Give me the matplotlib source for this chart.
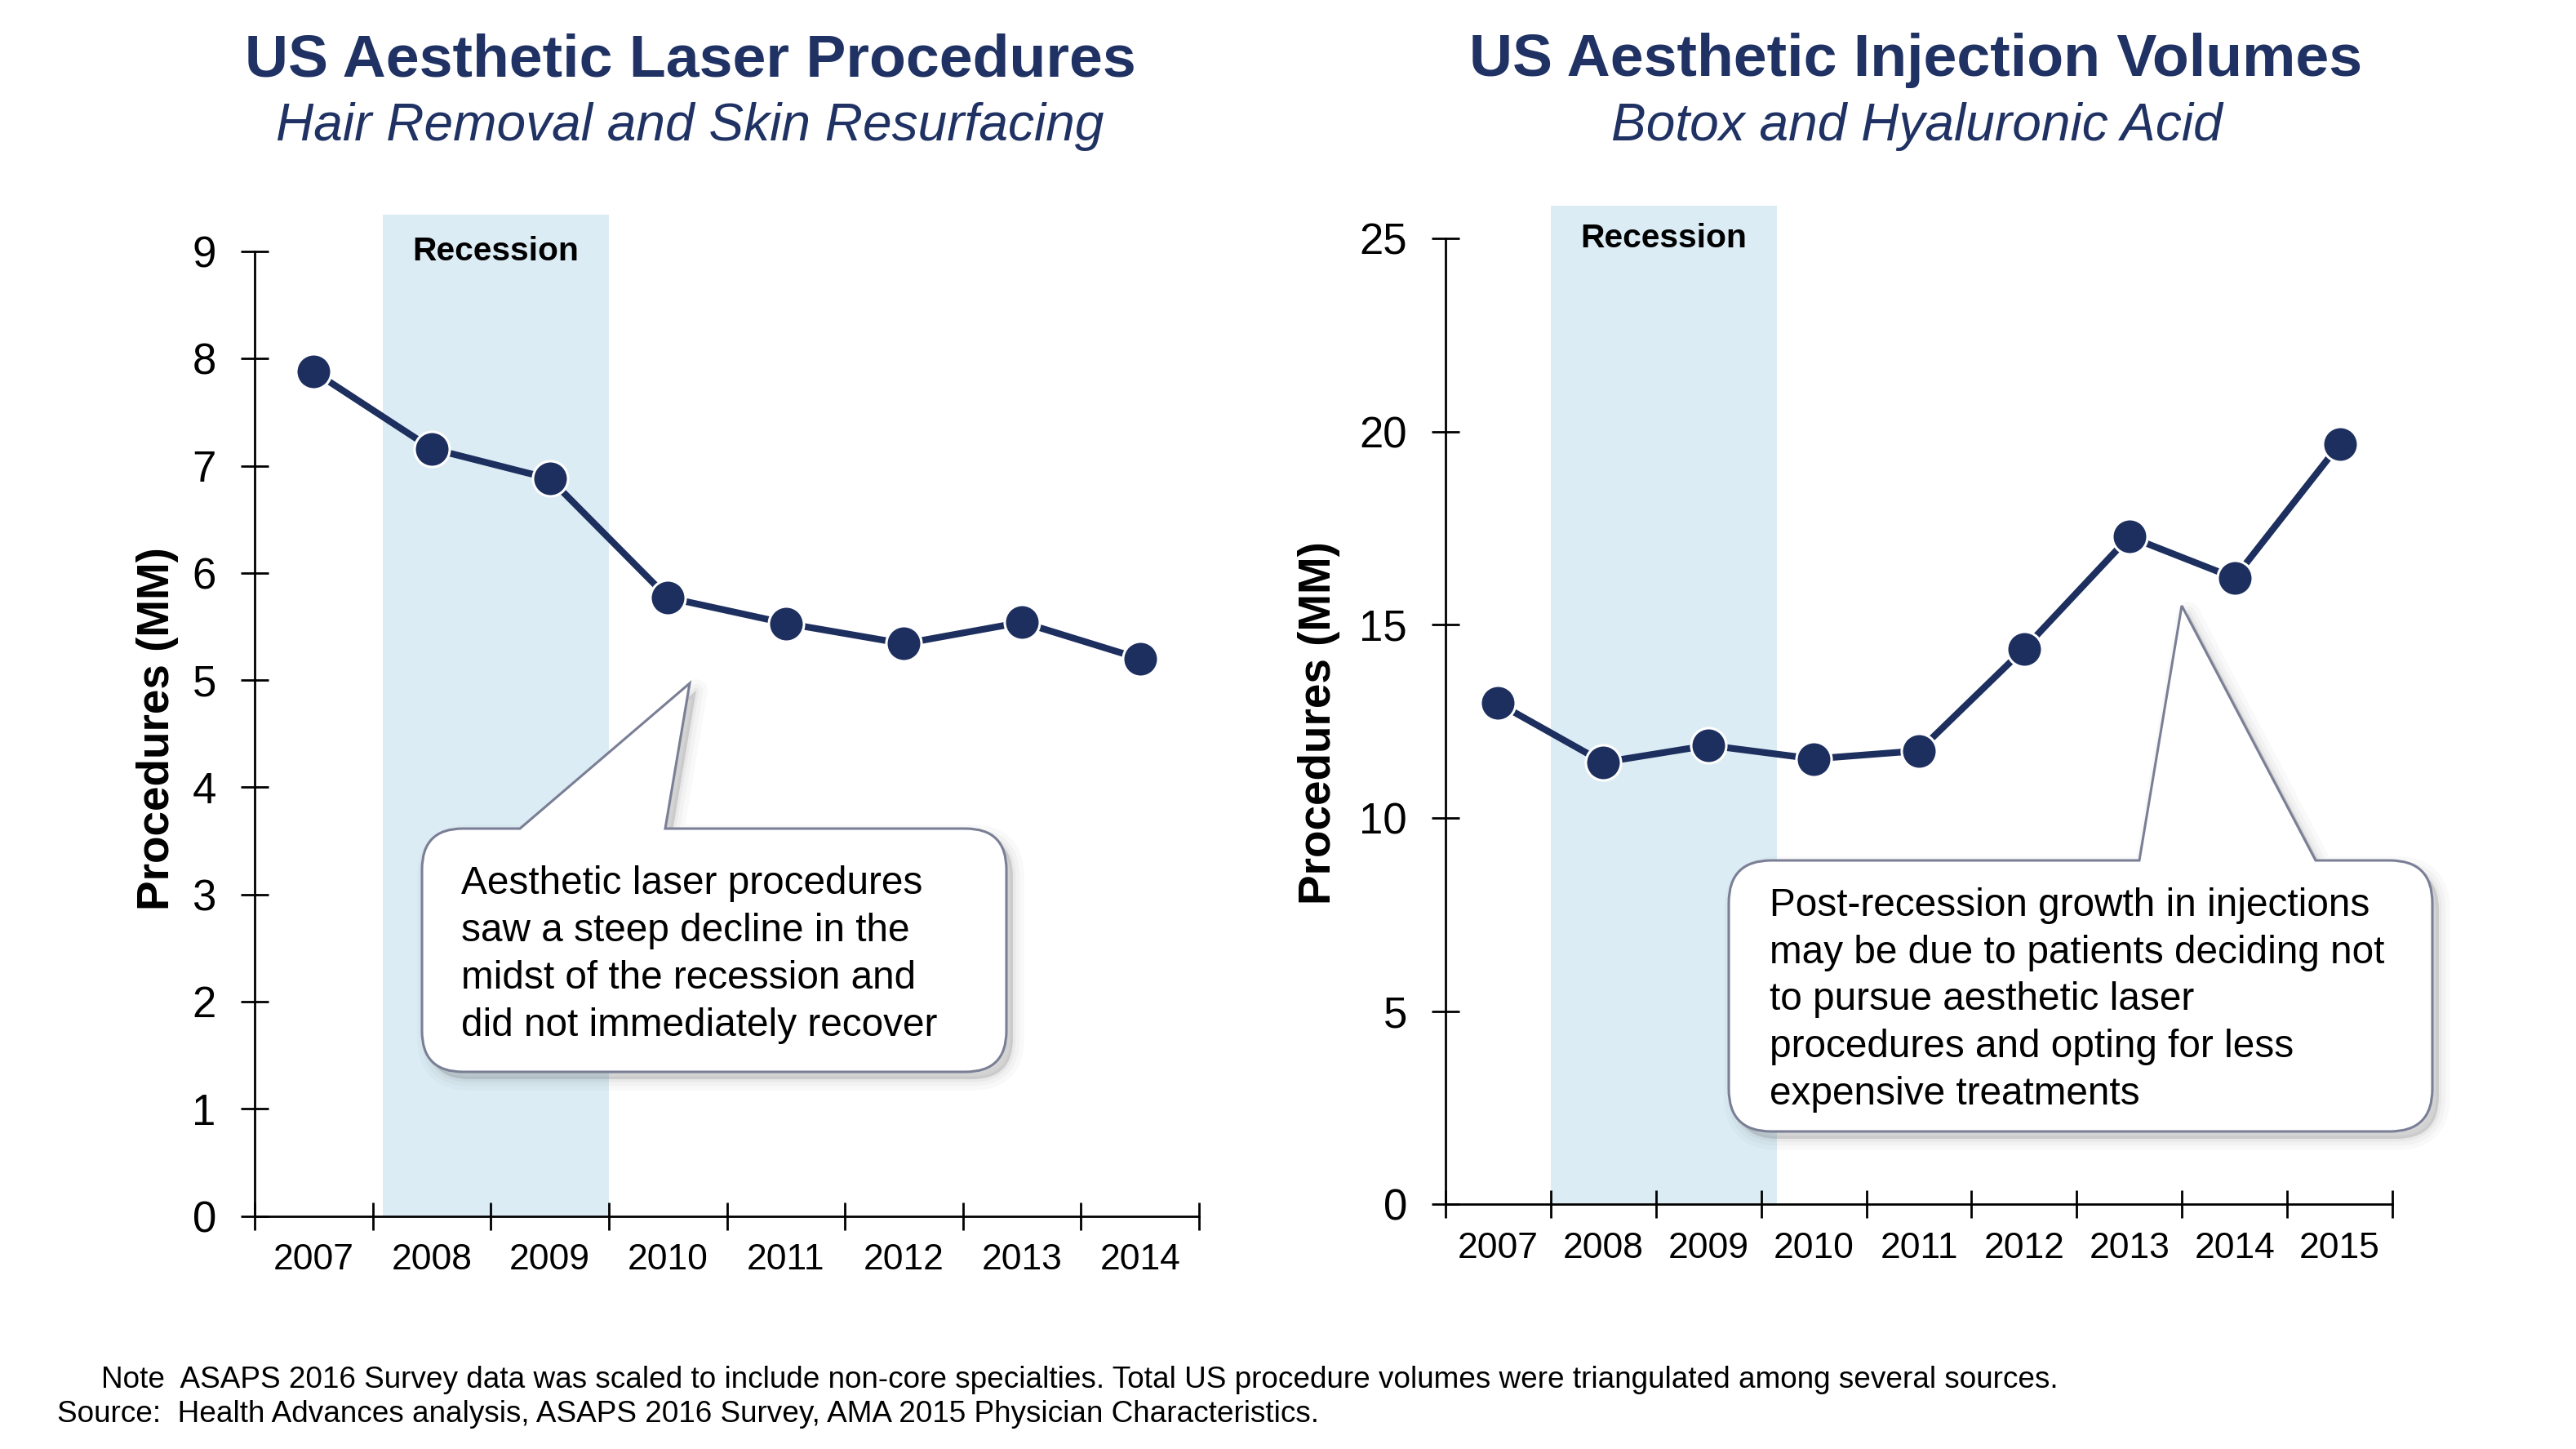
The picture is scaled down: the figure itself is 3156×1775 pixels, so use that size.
import numpy as np
import matplotlib
matplotlib.use('Agg')
import matplotlib.pyplot as plt
from matplotlib.path import Path
from matplotlib.patches import PathPatch

# data
laser_years = ['2007', '2008', '2009', '2010', '2011', '2012', '2013', '2014']
laser_mm = [7.88, 7.16, 6.88, 5.77, 5.53, 5.34, 5.54, 5.20]
laser_recession = [0.585, 2.5]

inj_years = ['2007', '2008', '2009', '2010', '2011', '2012', '2013', '2014', '2015']
inj_mm = [12.97, 11.44, 11.88, 11.53, 11.74, 14.38, 17.28, 16.21, 19.68]
inj_recession = [0.5, 2.65]

laser_title = 'US Aesthetic Laser Procedures'
laser_sub = 'Hair Removal and Skin Resurfacing'
inj_title = 'US Aesthetic Injection Volumes'
inj_sub = 'Botox and Hyaluronic Acid'
ylab = 'Procedures (MM)'

laser_note = ['Aesthetic laser procedures', 'saw a steep decline in the',
              'midst of the recession and', 'did not immediately recover']
inj_note = ['Post-recession growth in injections', 'may be due to patients deciding not',
            'to pursue aesthetic laser', 'procedures and opting for less',
            'expensive treatments']
foot1 = 'Note  ASAPS 2016 Survey data was scaled to include non-core specialties. Total US procedure volumes were triangulated among several sources.'
foot2 = 'Source:  Health Advances analysis, ASAPS 2016 Survey, AMA 2015 Physician Characteristics.'

W, H = 3156, 1775
navy = '#1d2f5e'
title_col = '#1f3263'
band_col = '#dcecf5'
edge_col = '#7a7f95'

plt.rcParams['font.family'] = ['Liberation Sans', 'DejaVu Sans']


def panel(ax, years, vals, ymax, ystep, ytop, band, lab_x, lab_y):
  x = np.arange(len(years))
  ax.axvspan(band[0], band[1], color=band_col, lw=0, zorder=0)
  ax.plot(x, vals, color=navy, lw=5.9, marker='o', ms=31, mfc=navy,
          mec='white', mew=2.2, zorder=3, clip_on=False)
  ax.set_xlim(-0.5, len(years) - 0.5)
  ax.set_ylim(0, ytop)
  for s in ['top', 'right']:
    ax.spines[s].set_visible(False)
  ax.spines['left'].set_bounds(0, ymax)
  ax.spines['left'].set_linewidth(2.0)
  ax.spines['bottom'].set_linewidth(2.0)
  ax.set_yticks(np.arange(0, ymax + ystep / 2, ystep))
  ax.set_xticks(x)
  ax.set_xticklabels(years)
  ax.set_xticks(np.arange(-0.5, len(years)), minor=True)
  ax.tick_params(axis='x', which='major', length=0, pad=24, labelsize=32)
  ax.tick_params(axis='x', which='minor', direction='inout', length=24, width=2.0)
  ax.tick_params(axis='y', direction='inout', length=24, width=2.0, pad=22, labelsize=38)
  ax.set_ylabel(ylab, fontsize=39.5, fontweight='bold')
  ax.yaxis.set_label_coords(lab_x, lab_y)
  ax.yaxis.label.set_va('center')
  ax.text(sum(band) / 2, ymax, 'Recession', ha='center', va='center',
          fontsize=29.3, fontweight='bold', zorder=2)


def callout(ov, box, base, tip, r, lines, tx, ty, dy):
  x0, y0, x1, y1 = box
  verts = [(x0 + r, y0), (base[0], y0), tip, (base[1], y0), (x1 - r, y0),
           (x1, y0), (x1, y0 + r), (x1, y1 - r), (x1, y1), (x1 - r, y1),
           (x0 + r, y1), (x0, y1), (x0, y1 - r), (x0, y0 + r), (x0, y0), (x0 + r, y0),
           (x0 + r, y0)]
  codes = [Path.MOVETO, Path.LINETO, Path.LINETO, Path.LINETO, Path.LINETO,
           Path.CURVE3, Path.CURVE3, Path.LINETO, Path.CURVE3, Path.CURVE3,
           Path.LINETO, Path.CURVE3, Path.CURVE3, Path.LINETO, Path.CURVE3, Path.CURVE3,
           Path.CLOSEPOLY]
  v = np.array(verts, dtype=float)
  # soft drop shadow
  for lw, a in [(20, 0.035), (12, 0.045), (5, 0.06), (0, 0.08)]:
    ov.add_patch(PathPatch(Path(v + [8, 9], codes), fc='#606060', ec='#606060',
                           lw=lw, alpha=a, joinstyle='round'))
  ov.add_patch(PathPatch(Path(v, codes), fc='white', ec=edge_col, lw=2.2,
                         joinstyle='miter'))
  for i, s in enumerate(lines):
    ov.text(tx, ty + i * dy, s, ha='left', va='baseline', fontsize=34.4, color='black')


fig = plt.figure(figsize=(W / 100, H / 100), dpi=100)

ax1 = fig.add_axes([312 / W, 1 - 1489.5 / H, 1157 / W, 1226.1 / H])
panel(ax1, laser_years, laser_mm, 9, 1, 9.34, laser_recession, -0.1029, 0.487)

ax2 = fig.add_axes([1771 / W, 1 - 1475.4 / H, 1160 / W, 1223.7 / H])
panel(ax2, inj_years, inj_mm, 25, 5, 25.85, inj_recession, -0.1336, 0.482)

ov = fig.add_axes([0, 0, 1, 1], zorder=5)
ov.set_xlim(0, W)
ov.set_ylim(H, 0)
ov.axis('off')
ov.patch.set_visible(False)

ov.text(845.5, 93.3, laser_title, ha='center', va='baseline', fontsize=52.9,
        fontweight='bold', color=title_col)
ov.text(845, 171.7, laser_sub, ha='center', va='baseline', fontsize=46.1,
        style='italic', color=title_col)
ov.text(2347, 93.3, inj_title, ha='center', va='baseline', fontsize=52.9,
        fontweight='bold', color=title_col)
ov.text(2348, 171.7, inj_sub, ha='center', va='baseline', fontsize=46.1,
        style='italic', color=title_col)

callout(ov, (517, 1015, 1233, 1313), (637, 815), (845, 837), 50,
        laser_note, 565, 1095, 58)
callout(ov, (2118, 1054, 2980, 1386), (2621, 2837), (2673, 742), 52,
        inj_note, 2168, 1122, 57.7)

ov.text(124, 1700, foot1, ha='left', va='baseline', fontsize=26.6)
ov.text(70, 1742, foot2, ha='left', va='baseline', fontsize=26.6)

fig.savefig('out.png', dpi=100)
